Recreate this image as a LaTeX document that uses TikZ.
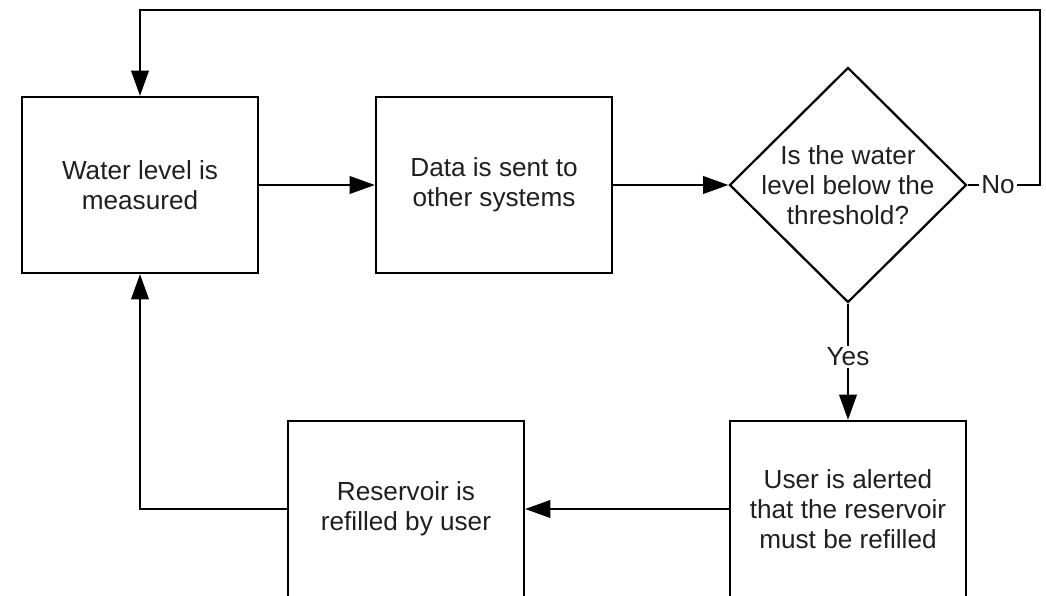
\documentclass[tikz,border=0pt]{standalone}
\usepackage{fontspec}
\setmainfont{Liberation Sans}
\usetikzlibrary{positioning, shapes.geometric, arrows.meta}

\tikzset{
  stepbox/.style={draw, line width=1.6pt, minimum width=5.9cm, minimum height=4.4cm,
    align=center, inner sep=0pt, text=black!88, font=\fontsize{18.6}{21.5}\selectfont},
  decision/.style={draw, diamond, line width=1.6pt, minimum width=5.925cm,
    minimum height=5.875cm, inner sep=0pt},
  flow/.style={line width=1.6pt, -{Triangle[length=18pt,width=12.5pt]}},
  answer/.style={fill=white, inner sep=1.5pt, text=black!88, font=\fontsize{18.6}{21.5}\selectfont}
}

\begin{document}
\begin{tikzpicture}[x=0.025cm, y=-0.025cm]
  \useasboundingbox (0,0) rectangle (1046,596);
  \clip (0,0) rectangle (1046,596);

  % top row
  \node[stepbox] (measure) at (140,185) {Water level is\\measured};
  \node[stepbox] (send) at (494,185) {Data is sent to\\other systems};
  \node[decision] (check) at (848,185) {};
  \node[align=center, inner sep=0pt, text=black!88, font=\fontsize{18.6}{21.5}\selectfont]
    (checktext) at (check) {Is the water\\level below the\\threshold?};

  % bottom row (cut off by the page edge)
  \node[stepbox] (alert) at (848,509) {User is alerted\\that the reservoir\\must be refilled};
  \node[stepbox] (refill) at (406,509) {Reservoir is\\refilled by user};

  \coordinate (loopcorner) at (1040,10);

  \draw[flow] (measure) -- (send);
  \draw[flow] (send) -- (check);
  \draw[flow] (check.east) -- node[answer, pos=0.42] (no) {No} (check.east -| loopcorner)
    -- (loopcorner) -| (measure.north);
  \draw[flow] (check.south) -- node[answer, pos=0.46] (yes) {Yes} (alert.north);
  \draw[flow] (alert.west) -- (refill.east);
  \draw[flow] (refill.west) -| (measure.south);
\end{tikzpicture}
\end{document}
